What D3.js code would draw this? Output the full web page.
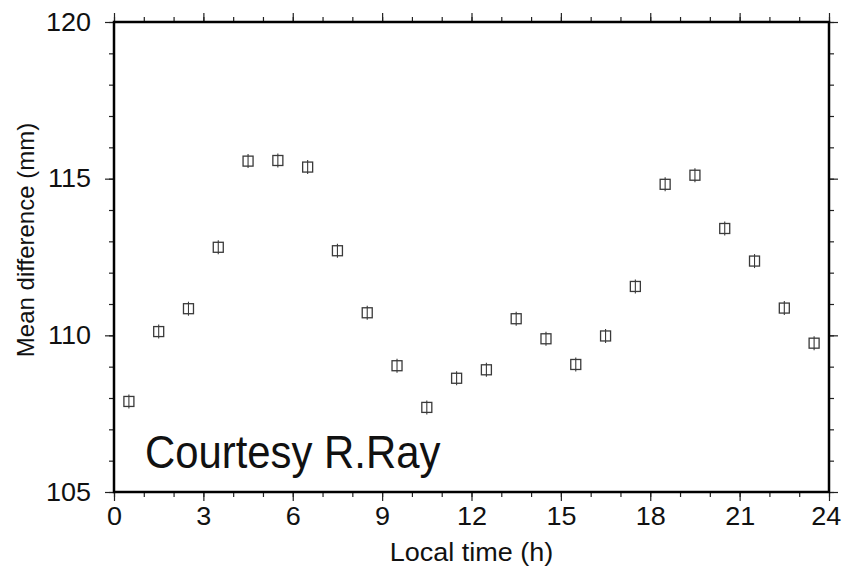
<!DOCTYPE html>
<html>
<head>
<meta charset="utf-8">
<script src="https://cdn.jsdelivr.net/npm/d3@7"></script>
<style>
  body { margin: 0; background: #fff; }
  svg { display: block; }
  .axis path { display: none; }
  .axis line { stroke: #222; stroke-width: 1.2px; }
  text { font-family: "Liberation Sans", Arial, Helvetica, sans-serif; fill: #111; }
</style>
</head>
<body>
<script>
// local time bins (h) and mean difference (mm)
var hours = [0.5, 1.5, 2.5, 3.5, 4.5, 5.5, 6.5, 7.5, 8.5, 9.5, 10.5, 11.5,
             12.5, 13.5, 14.5, 15.5, 16.5, 17.5, 18.5, 19.5, 20.5, 21.5, 22.5, 23.5];
var meanDiff = [107.89, 110.12, 110.85, 112.81, 115.56, 115.58, 115.37, 112.70,
                110.72, 109.03, 107.70, 108.63, 108.90, 110.53, 109.89, 109.07,
                109.98, 111.56, 114.82, 115.11, 113.41, 112.37, 110.87, 109.75];
var xTicks = [0, 3, 6, 9, 12, 15, 18, 21, 24];
var xMinor = d3.range(0, 25, 1);
var yTicks = [105, 110, 115, 120];
var yMinor = d3.range(105, 121, 1);

var margin = {top: 22, right: 14, bottom: 77, left: 114};
var width = 843 - margin.left - margin.right;
var height = 569 - margin.top - margin.bottom;
var sx = 1.08; // the original figure is a bit stretched sideways

var svg = d3.select('body')
    .append('svg')
    .attr('width', 843)
    .attr('height', 569)
  .append('g')
    .attr('transform', 'translate(' + margin.left + ',' + margin.top + ')');

var xScale = d3.scaleLinear().domain([0, 24]).range([0, width]);
var yScale = d3.scaleLinear().domain([105, 120]).range([height, 0]);

// minor ticks, all four sides, pointing out
svg.append('g').attr('class', 'axis').attr('transform', 'translate(0,' + height + ')')
    .call(d3.axisBottom(xScale).tickValues(xMinor).tickSize(5).tickFormat(''));
svg.append('g').attr('class', 'axis')
    .call(d3.axisTop(xScale).tickValues(xMinor).tickSize(5).tickFormat(''));
svg.append('g').attr('class', 'axis')
    .call(d3.axisLeft(yScale).tickValues(yMinor).tickSize(5).tickFormat(''));
svg.append('g').attr('class', 'axis').attr('transform', 'translate(' + width + ',0)')
    .call(d3.axisRight(yScale).tickValues(yMinor).tickSize(5).tickFormat(''));

// major ticks
var gx = svg.append('g').attr('class', 'axis').attr('transform', 'translate(0,' + height + ')')
    .call(d3.axisBottom(xScale).tickValues(xTicks).tickSize(9).tickPadding(6));
gx.selectAll('text')
    .attr('font-size', '25px')
    .attr('fill', '#111')
    .attr('x', function(d) { return d == 24 ? -3 : 0; }) // keep "24" inside the page
    .attr('transform', 'scale(' + sx + ',1)');
svg.append('g').attr('class', 'axis')
    .call(d3.axisTop(xScale).tickValues(xTicks).tickSize(9).tickFormat(''));
var gy = svg.append('g').attr('class', 'axis')
    .call(d3.axisLeft(yScale).tickValues(yTicks).tickSize(9).tickPadding(14));
gy.selectAll('text')
    .attr('font-size', '25px')
    .attr('fill', '#111')
    .attr('x', -23 / sx)
    .attr('transform', 'scale(' + sx + ',1)');
svg.append('g').attr('class', 'axis').attr('transform', 'translate(' + width + ',0)')
    .call(d3.axisRight(yScale).tickValues(yTicks).tickSize(9).tickFormat(''));

// frame
svg.append('rect')
    .attr('width', width)
    .attr('height', height)
    .attr('fill', 'none')
    .attr('stroke', '#000')
    .attr('stroke-width', 2.5);

// square markers with a short vertical bar through them
var pts = svg.selectAll('.pt')
    .data(hours)
  .enter().append('g')
    .attr('class', 'pt')
    .attr('transform', function(d, i) { return 'translate(' + xScale(d) + ',' + yScale(meanDiff[i]) + ')'; });

pts.append('rect')
    .attr('x', -5).attr('y', -5)
    .attr('width', 10).attr('height', 10)
    .attr('fill', 'none')
    .attr('stroke', '#3a3a3a')
    .attr('stroke-width', 1.3);
pts.append('line')
    .attr('x1', 0).attr('x2', 0)
    .attr('y1', -7).attr('y2', 7)
    .attr('stroke', '#3a3a3a')
    .attr('stroke-width', 1.1);

// axis titles
svg.append('text')
    .attr('transform', 'translate(' + (width / 2) + ',' + (height + 69) + ') scale(' + sx + ',1)')
    .attr('text-anchor', 'middle')
    .attr('font-size', '25px')
    .text('Local time (h)');

svg.append('text')
    .attr('transform', 'rotate(-90)')
    .attr('x', -218)
    .attr('y', -80)
    .attr('text-anchor', 'middle')
    .attr('font-size', '24px')
    .text('Mean difference (mm)');

svg.append('text')
    .attr('transform', 'translate(31,446) scale(0.91,1)')
    .attr('font-size', '46px')
    .attr('fill', '#000')
    .text('Courtesy R.Ray');
</script>
</body>
</html>
